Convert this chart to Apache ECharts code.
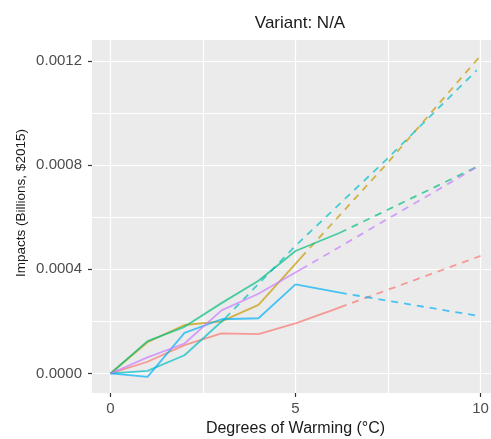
<!DOCTYPE html>
<html>
<head>
<meta charset="utf-8">
<script src="https://cdn.jsdelivr.net/npm/echarts@6/dist/echarts.min.js"></script>
<style>
  html, body { margin: 0; padding: 0; background: #fff; overflow: hidden; }
  #main { width: 510px; height: 439px; }
</style>
</head>
<body>
<div id="main"></div>
<script>
// tick labels
const xTicks = [0, 5, 10];
const xGrid = [0, 2.5, 5, 7.5, 10];
const yTicks = [0, 0.0004, 0.0008, 0.0012];
const yGrid = [0, 0.0002, 0.0004, 0.0006, 0.0008, 0.001, 0.0012];

// observed (solid) and extrapolated (dashed) impacts, [degrees, billions]
const redSolid = [[0, 0], [1, 0.000045], [2, 0.000109], [3, 0.000154], [4, 0.000151], [5, 0.000192], [6, 0.000243], [6.2, 0.000254]];
const redDashed = [[6.2, 0.000254], [10, 0.000451]];
const goldSolid = [[0, 0], [1, 0.00012], [2, 0.000186], [3, 0.0002], [4, 0.000263], [5.15, 0.000445]];
const goldDashed = [[5.15, 0.000445], [7.5, 0.00081], [10, 0.00122]];
const greenSolid = [[0, 0], [1, 0.000124], [2, 0.000179], [3, 0.00027], [4, 0.000356], [5, 0.00047], [6.2, 0.00054]];
const greenDashed = [[6.2, 0.00054], [10, 0.0008]];
const tealSolid = [[0, 0], [1, 0.00001], [2, 0.00007], [3.1, 0.000212]];
const tealDashed = [[3.1, 0.000212], [5, 0.00049], [7.5, 0.000827], [9.9, 0.001164]];
const blueSolid = [[0, 0], [1, -0.000013], [2, 0.000156], [3, 0.000208], [4, 0.000212], [5, 0.000342], [6.2, 0.00031]];
const blueDashed = [[6.2, 0.00031], [9.9, 0.000222]];
const purpleSolid = [[0, 0], [1, 0.0000615], [2, 0.000115], [3, 0.000242], [4, 0.000306], [5.15, 0.0004]];
const purpleDashed = [[5.15, 0.0004], [10, 0.0008]];

const groups = [
    { color: "#F8766D", solid: redSolid, dashed: redDashed },
    { color: "#C49A00", solid: goldSolid, dashed: goldDashed },
    { color: "#00BF7D", solid: greenSolid, dashed: greenDashed },
    { color: "#00BFC4", solid: tealSolid, dashed: tealDashed },
    { color: "#00B0F6", solid: blueSolid, dashed: blueDashed },
    { color: "#C77CFF", solid: purpleSolid, dashed: purpleDashed },
];

const font = "Liberation Sans";
const xMin = -0.5, xMax = 10.5;
const yMin = -0.000075, yMax = 0.00128;

function lineSeries(data, color, dashed) {
    return {
        type: "line",
        data: data,
        showSymbol: false,
        symbol: "none",
        silent: true,
        lineStyle: {
            color: color,
            width: 1.8,
            opacity: 0.7,
            type: dashed ? [7, 6] : "solid",
        },
        z: 3,
    };
}

const series = [];
groups.forEach(function (g) {
    series.push(lineSeries(g.solid, g.color, false));
    series.push(lineSeries(g.dashed, g.color, true));
});

const hiddenBits = {
    axisLine: { show: false, onZero: false },
    axisLabel: { show: false },
};

const option = {
    animation: false,
    backgroundColor: "#ffffff",
    textStyle: { fontFamily: font },
    title: {
        text: "Variant: N/A",
        left: 295,
        top: 10,
        textAlign: "center",
        textStyle: { fontFamily: font, fontSize: 17, fontWeight: "normal", color: "#1a1a1a" },
    },
    graphic: [{
        type: "text",
        x: 21,
        y: 203,
        rotation: Math.PI / 2,
        style: {
            text: "Impacts (Billions, $2015)",
            fontFamily: font,
            fontSize: 13.5,
            fill: "#1a1a1a",
            align: "center",
            verticalAlign: "middle",
        },
    }],
    grid: {
        left: 92,
        top: 40,
        width: 407,
        height: 353,
        show: true,
        backgroundColor: "#EBEBEB",
        borderWidth: 0,
        containLabel: false,
        outerBoundsMode: "none",
    },
    xAxis: [
        {
            type: "value",
            min: xMin,
            max: xMax,
            name: "Degrees of Warming (°C)",
            nameLocation: "middle",
            nameGap: 27,
            nameTextStyle: { fontFamily: font, fontSize: 16, color: "#1a1a1a" },
            axisLine: { show: false, onZero: false },
            axisTick: { show: true, length: 4, lineStyle: { color: "#333", width: 1.2 }, customValues: xTicks },
            axisLabel: { color: "#4D4D4D", fontSize: 15, margin: 8, customValues: xTicks },
            splitLine: { show: false },
        },
        Object.assign({
            type: "value",
            min: xMin,
            max: xMax,
            position: "bottom",
            splitLine: { show: true, lineStyle: { color: "#fff", width: 1.2 } },
        }, hiddenBits, { axisTick: { show: false, customValues: xGrid } }),
    ],
    yAxis: [
        {
            type: "value",
            min: yMin,
            max: yMax,
            axisLine: { show: false, onZero: false },
            axisTick: { show: true, length: 4, lineStyle: { color: "#333", width: 1.2 }, customValues: yTicks },
            axisLabel: {
                color: "#4D4D4D",
                fontSize: 15,
                margin: 10,
                customValues: yTicks,
                formatter: (v) => v.toFixed(4),
            },
            splitLine: { show: false },
        },
        Object.assign({
            type: "value",
            min: yMin,
            max: yMax,
            position: "left",
            splitLine: { show: true, lineStyle: { color: "#fff", width: 1.2 } },
        }, hiddenBits, { axisTick: { show: false, customValues: yGrid } }),
    ],
    series: series,
};

const myChart = echarts.init(document.getElementById("main"), null, { renderer: "canvas" });
myChart.setOption(option);
</script>
</body>
</html>
